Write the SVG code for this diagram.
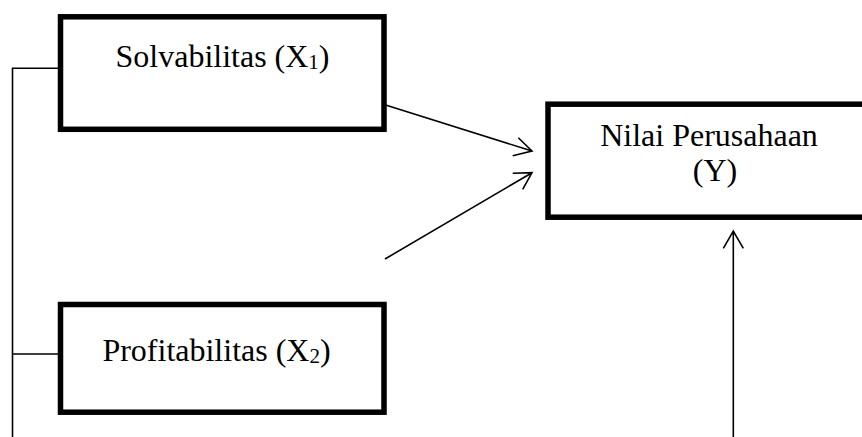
<svg xmlns="http://www.w3.org/2000/svg" width="862" height="437" viewBox="0 0 862 437">
<style>
.box{fill:#fff;stroke:#000;stroke-width:5.5}
.t{font-family:"Liberation Serif","Times New Roman",serif;font-size:32px;fill:#000;text-anchor:middle}
.sub{font-size:21px}
.c{fill:none;stroke:#000;stroke-width:1.6}
</style>
<rect width="862" height="437" fill="#fff"/>
<g id="connectors">
<path class="c" d="M12.5 437V68.3H58M12.5 354H58"/>
<path class="c" d="M380 103.3L532 151M512.7 155.7L532 151L518.3 137.7"/>
<path class="c" d="M385 259L532 172.7M512.7 173.3L532 172.7L522.7 189.3"/>
<path class="c" d="M733.3 437V231M723.3 248.3L733.3 231L743.3 248.3"/>
</g>
<g id="x1">
<rect class="box" x="60.5" y="16.8" width="323.5" height="112.5"/>
<text class="t" x="222.5" y="67">Solvabilitas (X<tspan class="sub" dy="2">1</tspan><tspan dy="-2">)</tspan></text>
</g>
<g id="x2">
<rect class="box" x="60.5" y="304.5" width="323.5" height="107.7"/>
<text class="t" x="216.5" y="361">Profitabilitas (X<tspan class="sub" dy="2">2</tspan><tspan dy="-2">)</tspan></text>
</g>
<g id="y">
<rect class="box" x="548" y="104.2" width="330" height="113"/>
<text class="t" x="709" y="146">Nilai Perusahaan</text>
<text class="t" x="715" y="181">(Y)</text>
</g>
</svg>
